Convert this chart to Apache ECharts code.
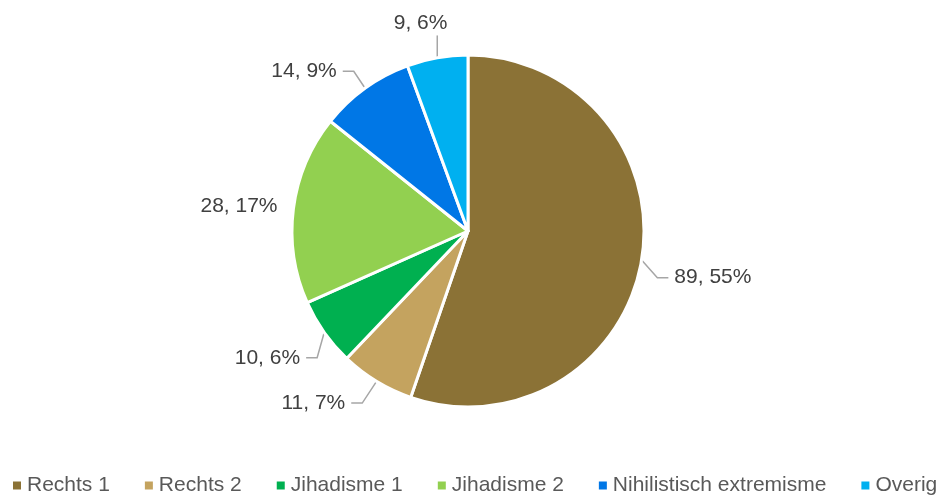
<!DOCTYPE html>
<html>
<head>
<meta charset="utf-8">
<script src="https://cdn.jsdelivr.net/npm/echarts@6/dist/echarts.min.js"></script>
<style>
  html, body { margin: 0; padding: 0; background: #fff; }
  #chart { width: 942px; height: 501px; }
</style>
</head>
<body>
<div id="chart"></div>
<script>
// categories and counts, clockwise from the top
var categories = ['Rechts 1', 'Rechts 2', 'Jihadisme 1', 'Jihadisme 2', 'Nihilistisch extremisme', 'Overig'];
var counts = [89, 11, 10, 28, 14, 9];
var colors = ['#8B7236', '#C4A35F', '#00B050', '#92D050', '#0077E6', '#00B0F0'];

// small nudges so the labels sit where Excel put them
var labelShift = [[0, 15], [-6, 8], [6, 16], [17, -1], [-2, -4], [30, -19]];

var total = counts.reduce(function (a, b) { return a + b; }, 0);

var chart = echarts.init(document.getElementById('chart'));
var option = {
  color: colors,
  animation: false,
  textStyle: { fontFamily: 'Liberation Sans, Arial, sans-serif' },
  legend: {
    left: 6,
    bottom: 0,
    width: 1300,
    icon: 'rect',
    itemWidth: 10,
    itemHeight: 10,
    itemGap: 33,
    textStyle: { fontSize: 21, color: '#595959' },
    data: categories
  },
  series: [
    {
      type: 'pie',
      center: [468, 231],
      radius: 176,
      startAngle: 90,
      clockwise: true,
      avoidLabelOverlap: false,
      itemStyle: { borderColor: '#fff', borderWidth: 3 },
      label: {
        show: true,
        position: 'outside',
        fontSize: 21,
        color: '#404040',
        formatter: function (p) {
          return p.value + ', ' + Math.round(p.value / total * 100) + '%';
        }
      },
      labelLine: {
        show: true,
        length: 16,
        length2: 12,
        lineStyle: { color: '#A6A6A6', width: 1.5 }
      },
      labelLayout: function (p) {
        var i = p.dataIndex;
        var s = labelShift[i];
        var r = p.labelRect;
        var p0 = p.labelLinePoints ? p.labelLinePoints[0] : [0, 0];
        var x = r.x + s[0], y = r.y + s[1];
        var cy = y + r.height / 2;
        var pts;
        if (i === 5) {
          pts = [p0, [p0[0], p0[1] - 10], [p0[0], y + r.height + 2]];
        } else if (i === 3) {
          pts = [p0, p0, p0];
        } else if (p0[0] > 468) {
          pts = [p0, [x - 17, cy], [x - 6, cy]];
        } else {
          pts = [p0, [x + r.width + 17, cy], [x + r.width + 6, cy]];
        }
        return { dx: s[0], dy: s[1], labelLinePoints: pts };
      },
      data: categories.map(function (c, i) {
        return { name: c, value: counts[i] };
      })
    }
  ]
};
chart.setOption(option);
</script>
</body>
</html>
